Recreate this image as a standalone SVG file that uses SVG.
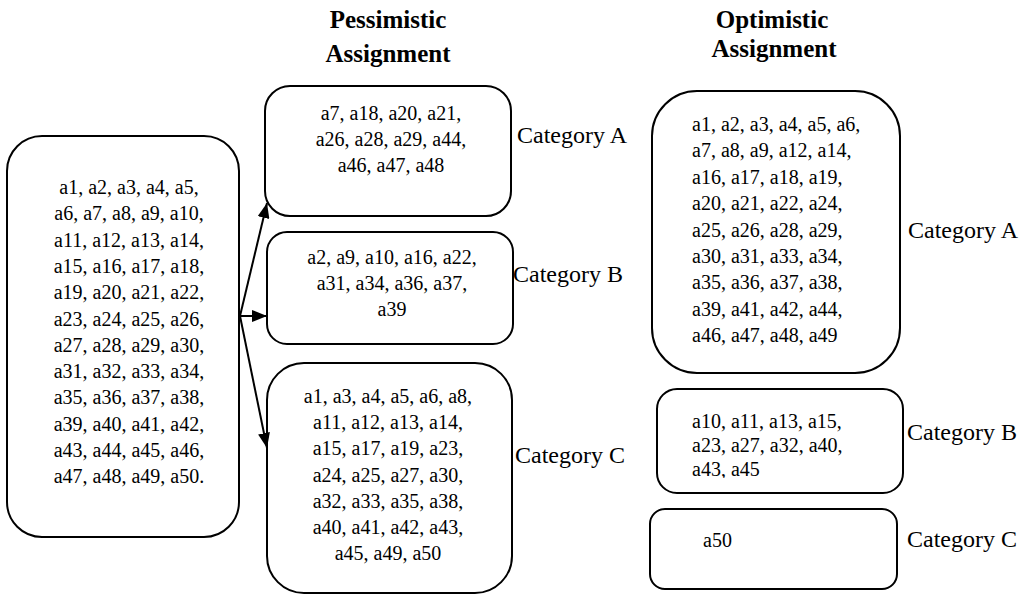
<svg xmlns="http://www.w3.org/2000/svg" width="1028" height="597" viewBox="0 0 1028 597">
  <style>
    .box { fill: #ffffff; stroke: #000000; stroke-width: 2; }
    .t { font-family: "Liberation Serif", "Times New Roman", serif; font-size: 20px; fill: #000000; }
    .c { text-anchor: middle; }
    .cat { font-family: "Liberation Serif", "Times New Roman", serif; font-size: 24px; fill: #000000; }
    .head { font-family: "Liberation Serif", "Times New Roman", serif; font-size: 25px; font-weight: bold; fill: #000000; text-anchor: middle; }
    .edge { stroke: #000000; stroke-width: 2; fill: none; }
  </style>
  <defs>
    <marker id="arrow" markerUnits="userSpaceOnUse" markerWidth="16" markerHeight="12" refX="15" refY="6" orient="auto">
      <path d="M0,0 L15,6 L0,12 Z" fill="#000000"/>
    </marker>
    <clipPath id="clipOptB">
      <rect x="650" y="380" width="260" height="98"/>
    </clipPath>
  </defs>
  <rect width="1028" height="597" fill="#ffffff"/>

  <!-- column headings -->
  <g id="headings">
    <text class="head" x="388" y="28">Pessimistic</text>
    <text class="head" x="388" y="62">Assignment</text>
    <text class="head" x="772" y="28">Optimistic</text>
    <text class="head" x="774" y="57">Assignment</text>
  </g>

  <!-- all alternatives -->
  <g id="all-alternatives">
    <rect class="box" x="7" y="136" width="232" height="401" rx="35" ry="35"/>
    <text class="t c" x="129" y="194">a1, a2, a3, a4, a5,</text>
    <text class="t c" x="129" y="220.3">a6, a7, a8, a9, a10,</text>
    <text class="t c" x="129" y="246.6">a11, a12, a13, a14,</text>
    <text class="t c" x="129" y="272.9">a15, a16, a17, a18,</text>
    <text class="t c" x="129" y="299.2">a19, a20, a21, a22,</text>
    <text class="t c" x="129" y="325.5">a23, a24, a25, a26,</text>
    <text class="t c" x="129" y="351.8">a27, a28, a29, a30,</text>
    <text class="t c" x="129" y="378.1">a31, a32, a33, a34,</text>
    <text class="t c" x="129" y="404.4">a35, a36, a37, a38,</text>
    <text class="t c" x="129" y="430.7">a39, a40, a41, a42,</text>
    <text class="t c" x="129" y="457">a43, a44, a45, a46,</text>
    <text class="t c" x="129" y="483.3">a47, a48, a49, a50.</text>
  </g>

  <!-- pessimistic assignment -->
  <g id="pess-a">
    <rect class="box" x="265" y="86" width="246" height="130" rx="25" ry="25"/>
    <text class="t c" x="391" y="120">a7, a18, a20, a21,</text>
    <text class="t c" x="391" y="146">a26, a28, a29, a44,</text>
    <text class="t c" x="391" y="172">a46, a47, a48</text>
    <text class="cat" x="517" y="143">Category A</text>
  </g>
  <g id="pess-b">
    <rect class="box" x="267" y="232" width="246" height="112" rx="20" ry="20"/>
    <text class="t c" x="392" y="264">a2, a9, a10, a16, a22,</text>
    <text class="t c" x="392" y="290">a31, a34, a36, a37,</text>
    <text class="t c" x="392" y="316">a39</text>
    <text class="cat" x="513" y="282">Category B</text>
  </g>
  <g id="pess-c">
    <rect class="box" x="267" y="363" width="245" height="230" rx="37" ry="37"/>
    <text class="t c" x="388" y="403">a1, a3, a4, a5, a6, a8,</text>
    <text class="t c" x="388" y="429.2">a11, a12, a13, a14,</text>
    <text class="t c" x="388" y="455.4">a15, a17, a19, a23,</text>
    <text class="t c" x="388" y="481.6">a24, a25, a27, a30,</text>
    <text class="t c" x="388" y="507.8">a32, a33, a35, a38,</text>
    <text class="t c" x="388" y="534">a40, a41, a42, a43,</text>
    <text class="t c" x="388" y="560.2">a45, a49, a50</text>
    <text class="cat" x="515" y="463">Category C</text>
  </g>

  <!-- optimistic assignment -->
  <g id="opt-a">
    <rect class="box" x="652" y="91" width="248" height="282" rx="45" ry="45"/>
    <text class="t" x="692" y="131">a1, a2, a3, a4, a5, a6,</text>
    <text class="t" x="692" y="157.4">a7, a8, a9, a12, a14,</text>
    <text class="t" x="692" y="183.8">a16, a17, a18, a19,</text>
    <text class="t" x="692" y="210.2">a20, a21, a22, a24,</text>
    <text class="t" x="692" y="236.6">a25, a26, a28, a29,</text>
    <text class="t" x="692" y="263">a30, a31, a33, a34,</text>
    <text class="t" x="692" y="289.4">a35, a36, a37, a38,</text>
    <text class="t" x="692" y="315.8">a39, a41, a42, a44,</text>
    <text class="t" x="692" y="342.2">a46, a47, a48, a49</text>
    <text class="cat" x="908" y="238">Category A</text>
  </g>
  <g id="opt-b">
    <rect class="box" x="657" y="389" width="246" height="104" rx="20" ry="20"/>
    <g clip-path="url(#clipOptB)">
      <text class="t" x="692" y="428">a10, a11, a13, a15,</text>
      <text class="t" x="692" y="452">a23, a27, a32, a40,</text>
      <text class="t" x="692" y="476">a43, a45</text>
    </g>
    <text class="cat" x="907" y="440">Category B</text>
  </g>
  <g id="opt-c">
    <rect class="box" x="650" y="509" width="247" height="80" rx="15" ry="15"/>
    <text class="t" x="703" y="547">a50</text>
    <text class="cat" x="907" y="547">Category C</text>
  </g>

  <!-- connectors from all alternatives to pessimistic categories -->
  <g id="connectors">
    <line class="edge" x1="240" y1="316" x2="267" y2="203" marker-end="url(#arrow)"/>
    <line class="edge" x1="240" y1="316" x2="267" y2="316" marker-end="url(#arrow)"/>
    <line class="edge" x1="240" y1="316" x2="267" y2="448" marker-end="url(#arrow)"/>
  </g>
</svg>
